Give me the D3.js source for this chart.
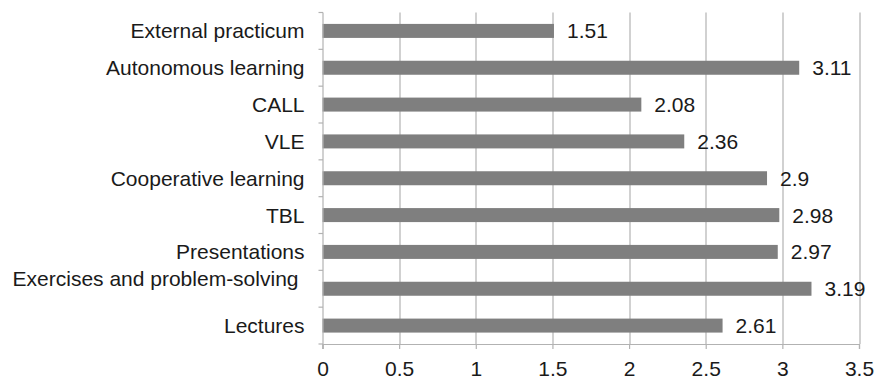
<!DOCTYPE html>
<html>
<head>
<meta charset="utf-8">
<script src="https://cdn.jsdelivr.net/npm/d3@7/dist/d3.min.js"></script>
<style>
  html, body { margin: 0; padding: 0; background: #fff; }
  svg { display: block; }
  text { font-family: "Liberation Sans", Arial, Helvetica, sans-serif; fill: #1a1a1a; }
</style>
</head>
<body>
<svg id="chart" width="878" height="381"></svg>
<script>
// Teaching methods and their mean ratings
const categories = [
  "External practicum",
  "Autonomous learning",
  "CALL",
  "VLE",
  "Cooperative learning",
  "TBL",
  "Presentations",
  "Exercises and problem-solving",
  "Lectures"
];
const values = [1.51, 3.11, 2.08, 2.36, 2.9, 2.98, 2.97, 3.19, 2.61];
const xTicks = [0, 0.5, 1, 1.5, 2, 2.5, 3, 3.5];

const svg = d3.select("#chart");
const margin = { top: 12.5, right: 19, bottom: 37, left: 322.5 };
const W = 878, H = 381;
const innerW = W - margin.left - margin.right;
const innerH = H - margin.top - margin.bottom;
const fontSize = 21;

const g = svg.append("g").attr("transform", `translate(${margin.left},${margin.top})`);

const x = d3.scaleLinear().domain([0, 3.5]).range([0, innerW]);
const y = d3.scaleBand().domain(categories).range([0, innerH]).paddingInner(0.62).paddingOuter(0.31);

const gridColor = "#b2b2b2";

// vertical gridlines
g.selectAll(".grid").data(xTicks.slice(1)).enter().append("line")
  .attr("x1", d => Math.round(x(d)) + 0.5).attr("x2", d => Math.round(x(d)) + 0.5)
  .attr("y1", 0).attr("y2", innerH)
  .attr("stroke", gridColor).attr("stroke-width", 1.2);

// bars
g.selectAll(".bar").data(values).enter().append("rect")
  .attr("x", 0)
  .attr("y", (d, i) => y(categories[i]))
  .attr("width", d => x(d))
  .attr("height", y.bandwidth())
  .attr("fill", "#7f7f7f");

// value labels
g.selectAll(".val").data(values).enter().append("text")
  .attr("x", d => x(d) + 13)
  .attr("y", (d, i) => y(categories[i]) + y.bandwidth() / 2)
  .attr("dy", "0.36em")
  .attr("font-size", fontSize)
  .text(d => d);

// bottom axis
const xAxis = g.append("g").attr("transform", `translate(0,${innerH})`)
  .call(d3.axisBottom(x).tickValues(xTicks).tickFormat(d3.format("")).tickSize(5).tickPadding(12));
xAxis.select(".domain").attr("stroke", gridColor).attr("stroke-width", 1.2);
xAxis.selectAll(".tick line").attr("stroke", gridColor).attr("stroke-width", 1.2);
xAxis.selectAll(".tick text").attr("font-size", fontSize).attr("fill", "#1a1a1a")
  .attr("font-family", "'Liberation Sans', Arial, sans-serif");

// left axis: ticks at band boundaries
const boundaries = d3.range(categories.length + 1).map(i => i * innerH / categories.length);
g.append("line").attr("x1", 0.5).attr("x2", 0.5).attr("y1", 0).attr("y2", innerH + 5)
  .attr("stroke", gridColor).attr("stroke-width", 1.2);
g.selectAll(".ytick").data(boundaries).enter().append("line")
  .attr("x1", -4).attr("x2", 0.5)
  .attr("y1", d => d).attr("y2", d => d)
  .attr("stroke", gridColor).attr("stroke-width", 1.2);

// category labels
g.selectAll(".cat").data(categories).enter().append("text")
  .attr("x", d => d === "Exercises and problem-solving" ? -24 : -18)
  .attr("y", d => y(d) + y.bandwidth() / 2 + (d === "Exercises and problem-solving" ? -10 : 0))
  .attr("dy", "0.36em")
  .attr("text-anchor", "end")
  .attr("font-size", fontSize)
  .text(d => d);
</script>
</body>
</html>
